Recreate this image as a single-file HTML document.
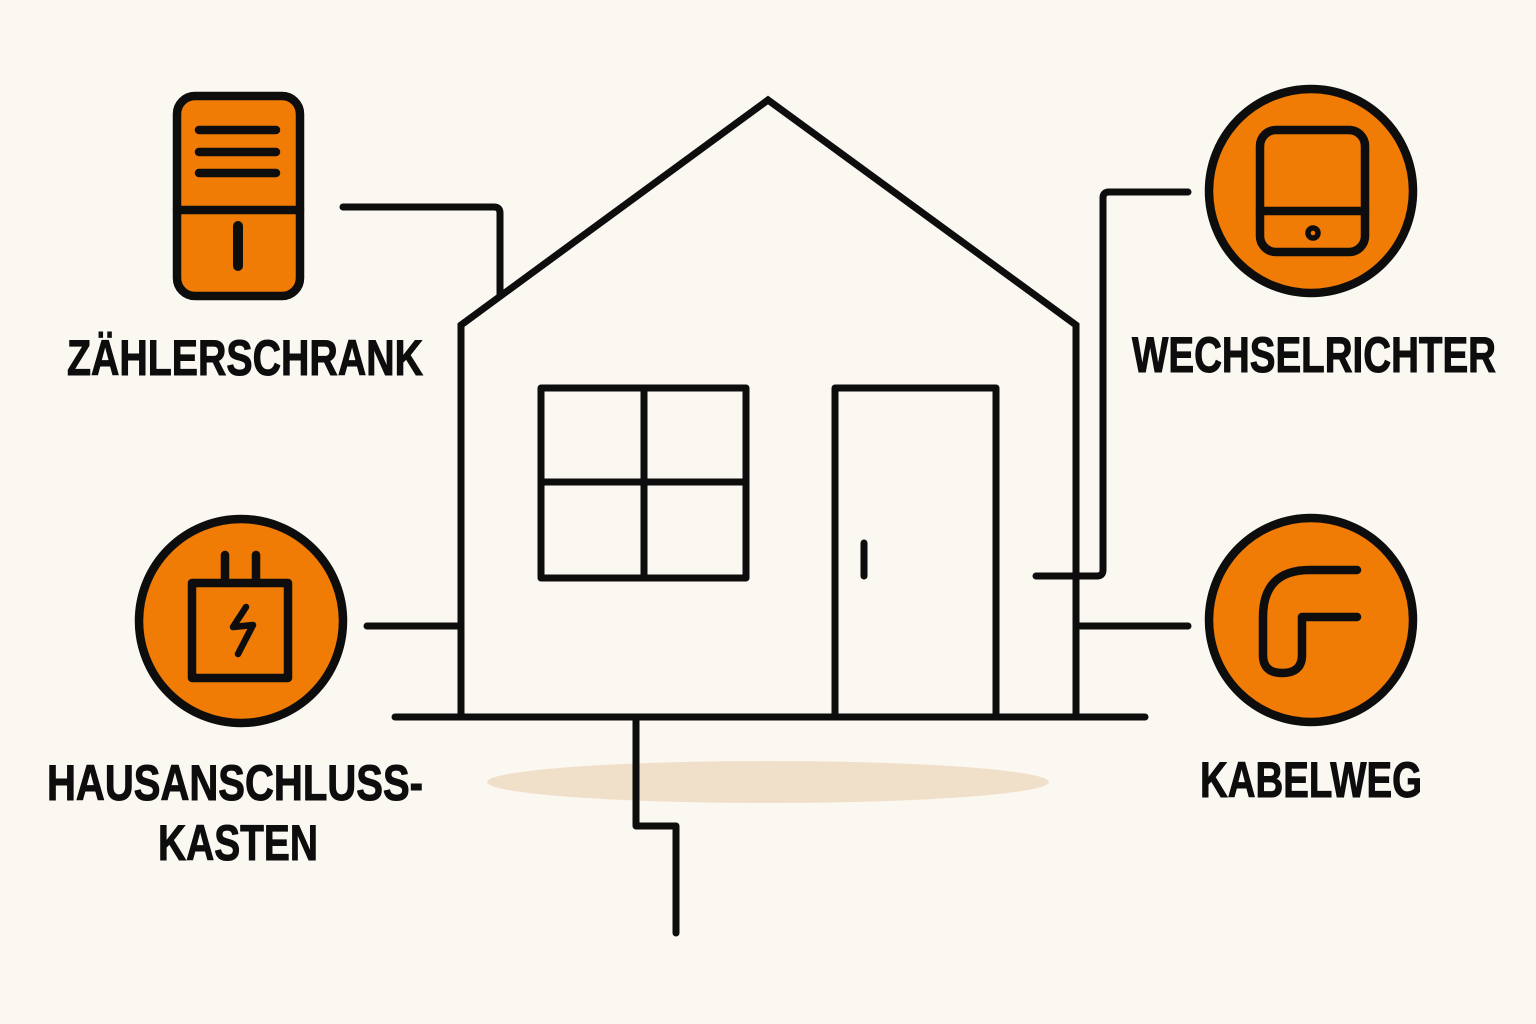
<!DOCTYPE html>
<html><head><meta charset="utf-8"><style>
html,body{margin:0;padding:0;background:#fbf8f2;}
svg{display:block}
text{font-family:"Liberation Sans Narrow","Liberation Sans",sans-serif;font-weight:bold;font-size:50px;fill:#0d0d0d;stroke:#0d0d0d;stroke-width:1px;}
</style></head><body>
<svg width="1536" height="1024" viewBox="0 0 1536 1024" xmlns="http://www.w3.org/2000/svg">
<rect width="1536" height="1024" fill="#fbf8f2"/>
<ellipse cx="768" cy="782" rx="281" ry="21" fill="#f1e0c9"/>
<g fill="none" stroke="#0d0d0d" stroke-width="7" stroke-linecap="round" stroke-linejoin="round">
<path d="M461 717 V325 L768 100 L1076 325 V717" stroke-linejoin="miter"/>
<line x1="395" y1="717" x2="1145" y2="717"/>
<rect x="541" y="388" width="205" height="190"/>
<line x1="644" y1="388" x2="644" y2="578"/>
<line x1="541" y1="482" x2="746" y2="482"/>
<path d="M835 717 V388 H996 V717"/>
<line x1="864" y1="543" x2="864" y2="576"/>
<path d="M343 207 H494 Q500 207 500 213 V294"/>
<path d="M1188 192 H1109 Q1103 192 1103 198 V570 Q1103 576 1097 576 H1036"/>
<line x1="1080" y1="626" x2="1188" y2="626"/>
<line x1="367" y1="626" x2="458" y2="626"/>
<path d="M636 717 V826 H676 V933"/>
</g>
<g stroke="#0d0d0d" stroke-width="8.5" stroke-linecap="round">
<rect x="177" y="96" width="123" height="200" rx="18" fill="#f07b05"/>
<line x1="177" y1="210" x2="300" y2="210"/>
<line x1="199" y1="130" x2="276" y2="130"/>
<line x1="199" y1="152" x2="276" y2="152"/>
<line x1="199" y1="173" x2="276" y2="173"/>
<line x1="238" y1="226" x2="238" y2="266" stroke-width="10"/>
</g>
<g stroke="#0d0d0d" stroke-width="8.5" stroke-linecap="round" stroke-linejoin="round">
<circle cx="241" cy="621" r="102" fill="#f07b05"/>
<rect x="192" y="583" width="96" height="95" fill="none"/>
<line x1="225" y1="555" x2="225" y2="583"/>
<line x1="256" y1="555" x2="256" y2="583"/>
<path d="M246 607 L233 627 L253 625 L238 654" fill="none" stroke-width="6.5"/>
</g>
<g stroke="#0d0d0d" stroke-width="8.5" stroke-linecap="round">
<circle cx="1311" cy="191" r="102" fill="#f07b05"/>
<rect x="1260" y="130" width="105" height="122" rx="16" fill="none"/>
<line x1="1260" y1="211" x2="1365" y2="211"/>
<circle cx="1313" cy="233" r="5" fill="none" stroke-width="5.5"/>
</g>
<g stroke="#0d0d0d" stroke-width="8.5" stroke-linecap="round" stroke-linejoin="round" fill="none">
<circle cx="1311" cy="620" r="102" fill="#f07b05"/>
<path d="M1357 570 H1310 Q1263 570 1263 617 V655 Q1263 673 1282 673 Q1302 673 1302 655 V617 H1357"/>
</g>
<text x="245" y="375" text-anchor="middle" textLength="356" lengthAdjust="spacingAndGlyphs">ZÄHLERSCHRANK</text>
<text x="1314" y="372" text-anchor="middle" textLength="364" lengthAdjust="spacingAndGlyphs">WECHSELRICHTER</text>
<text x="235" y="800" text-anchor="middle" textLength="376" lengthAdjust="spacingAndGlyphs">HAUSANSCHLUSS-</text>
<text x="238" y="860" text-anchor="middle" textLength="160" lengthAdjust="spacingAndGlyphs">KASTEN</text>
<text x="1311" y="797" text-anchor="middle" textLength="222" lengthAdjust="spacingAndGlyphs">KABELWEG</text>
</svg>
</body></html>
